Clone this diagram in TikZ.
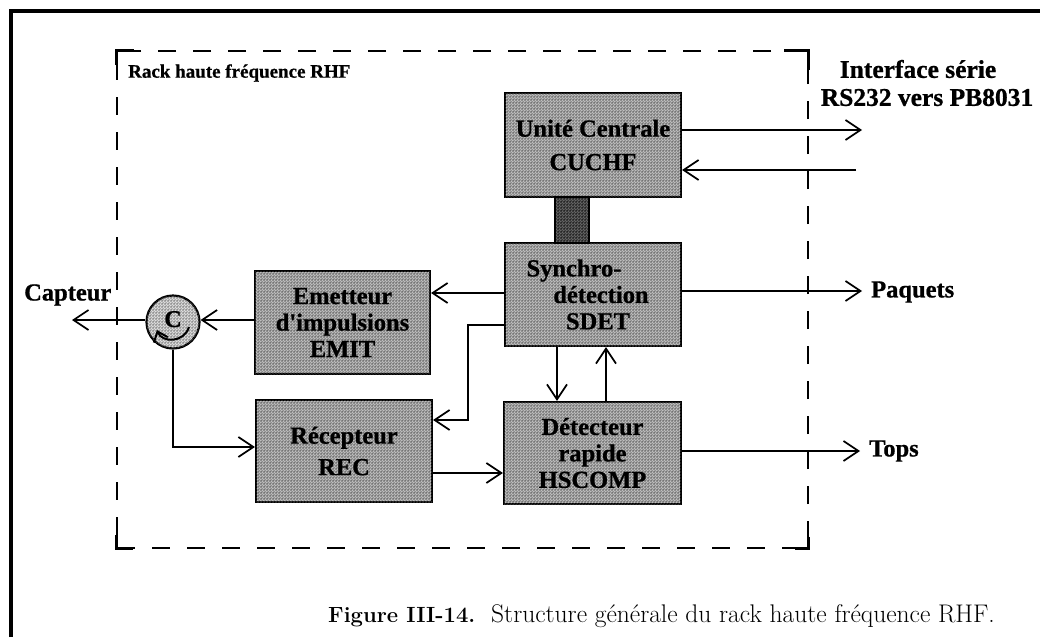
\documentclass[tikz,border=0pt]{standalone}
\usepackage{fontspec}
\setmainfont{Liberation Serif}
\newfontfamily\capfont{Latin Modern Roman}
\newfontfamily\heavy[FakeBold=0.8]{Liberation Serif Bold}
\usetikzlibrary{arrows.meta,patterns,calc}
\pgfdeclarepatternformonly{ditherd}{\pgfqpoint{-0.5pt}{-0.5pt}}{\pgfqpoint{2.5pt}{2.5pt}}{\pgfqpoint{3pt}{3pt}}{%
  \pgfpathrectangle{\pgfqpoint{0pt}{0pt}}{\pgfqpoint{1.5pt}{1.5pt}}%
  \pgfpathrectangle{\pgfqpoint{1.5pt}{1.5pt}}{\pgfqpoint{1.5pt}{1.5pt}}%
  \pgfusepath{fill}}
\tikzset{
  x=1pt,y=-1pt,
  bx/.style={draw,line width=2.2pt,fill=gray!50,postaction={pattern=ditherd,pattern color=black!70},
    inner sep=0pt,align=center},
  sp26/.style={font=\heavy\fontsize{24.5}{26.5}\selectfont},
  sp32/.style={font=\heavy\fontsize{24.5}{31.5}\selectfont},
  wire/.style={line width=1.7pt,-{Straight Barb[length=15pt,width=20pt,line width=1.7pt]}},
  lbl/.style={inner sep=0pt,font=\heavy\fontsize{25.5}{28}\selectfont,align=center},
  lblb/.style={inner sep=0pt,font=\heavy\fontsize{24.5}{28}\selectfont,anchor=west},
  rackbox/.style={draw,line width=1.9pt,dash pattern=on 18pt off 17pt,minimum width=691pt,minimum height=497pt,inner sep=0pt},
  corner/.style={line width=3pt,line cap=butt},
  frame/.style={line width=3.8pt,line join=miter},
}
\begin{document}
\begin{tikzpicture}
\useasboundingbox (0,0) rectangle (1040,637);
% frame
\coordinate (fa) at (11,637);
\coordinate (fb) at (11,11);
\coordinate (fc) at (1040,11);
\draw[frame] (fa) -- (fb) -- (fc);
% rack
\node[rackbox] (rack) at (462.5,299.5) {};
\draw[corner] ($(rack.north west)+(0,15)$) -- (rack.north west) -- ($(rack.north west)+(18,0)$);
\draw[corner] ($(rack.north east)+(0,20)$) -- (rack.north east) -- ($(rack.north east)+(-25,0)$);
\draw[corner] ($(rack.south west)+(0,-14)$) -- (rack.south west) -- ($(rack.south west)+(17,0)$);
\draw[corner] ($(rack.south east)+(0,-12)$) -- (rack.south east) -- ($(rack.south east)+(-14,0)$);
% boxes
\node[bx,sp32,minimum width=176pt,minimum height=104pt] (cuchf) at (593,145) {\raisebox{1pt}{Unité Centrale}\\[1pt]CUCHF};
\node[bx,sp26,minimum width=176pt,minimum height=103pt] (sdet) at (593,294.5) {\hspace*{-38pt}Synchro-\\\hspace*{16pt}détection\\\hspace*{10pt}SDET};
\node[bx,sp26,minimum width=175pt,minimum height=103pt] (emit) at (342.5,322.5) {Emetteur\\d'impulsions\\EMIT};
\node[bx,sp32,minimum width=176pt,minimum height=102pt] (rec) at (344,451) {Récepteur\\REC};
\node[bx,sp26,minimum width=177pt,minimum height=102pt] (hs) at (592.5,453) {Détecteur\\rapide\\HSCOMP};
\path[draw,line width=1.5pt,fill=black!60,postaction={pattern=ditherd,pattern color=black}] (555,197) rectangle (589,243);
\node[circle,draw,line width=2.2pt,fill=gray!25,postaction={pattern=ditherd,pattern color=black!60},minimum size=53pt,inner sep=0pt,font=\heavy\fontsize{24}{24}\selectfont] (circ) at (173,322) {\raisebox{6pt}{C}};
\draw[line width=2pt,-{Straight Barb[length=9pt,width=15pt,line width=2pt]}] ($(circ)+(16,5)$) .. controls ($(circ)+(11,21)$) and ($(circ)+(-11,21)$) .. ($(circ)+(-16,8)$);
% free ends
\coordinate (o1) at (862,130);
\coordinate (i1) at (856,170);
\coordinate (o2) at (862,291);
\coordinate (o3) at (860,451);
\coordinate (o4) at (72,320);
\coordinate (k1) at (468,325);
\coordinate (k2) at (468,420);
\coordinate (k3) at (173,447);
% connectors
\draw[wire] (cuchf.east |- o1) -- (o1);
\draw[wire] (i1) -- (cuchf.east |- i1);
\draw[wire] (sdet.east |- o2) -- (o2);
\draw[wire] (hs.east |- o3) -- (o3);
\draw[wire] (circ.west |- o4) -- (o4);
\draw[wire] (emit.west |- o4) -- (circ.east |- o4);
\draw[wire] (sdet.west |- 0,293) -- (emit.east |- 0,293);
\draw[wire] (sdet.west |- k1) -- (k1) -- (k2) -- (rec.east |- k2);
\draw[wire] (circ.south) -- (k3) -- (rec.west |- k3);
\draw[wire] (rec.east |- 0,473) -- (hs.west |- 0,473);
\draw[wire] (557,0 |- sdet.south) -- (557,0 |- hs.north);
\draw[wire] (606,0 |- hs.north) -- (606,0 |- sdet.south);
% labels
\node[lblb,font=\heavy\fontsize{19}{24}\selectfont] (t1) at (128,73) {Rack haute fréquence RHF};
\node[lbl] (t2) at (927,83) {\hspace*{-18pt}Interface série\\RS232 vers PB8031};
\node[lblb] (t3) at (24,295) {Capteur};
\node[lblb] (t4) at (871,292) {Paquets};
\node[lblb] (t5) at (869,451) {Tops};
\node[inner sep=0pt,anchor=base west,font=\capfont\bfseries\fontsize{22}{24}\selectfont] (t6) at (328,622) {Figure III-14.};
\node[inner sep=0pt,anchor=base west,font=\capfont\fontsize{25.5}{24}\selectfont] (t7) at (491,622) {Structure générale du rack haute fréquence RHF.};
\end{tikzpicture}
\end{document}
